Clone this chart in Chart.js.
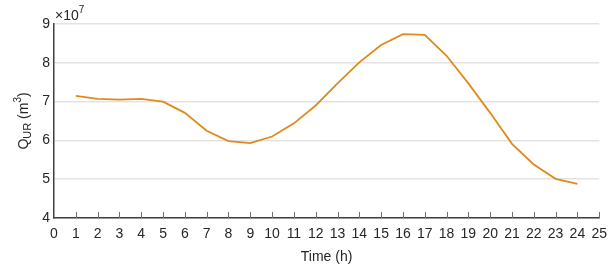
<!DOCTYPE html>
<html>
<head>
<meta charset="utf-8">
<script src="https://cdn.jsdelivr.net/npm/chart.js@4"></script>
<style>
  html, body { margin: 0; padding: 0; background: #fff; }
  #wrap { width: 615px; height: 270px; }
</style>
</head>
<body>
<div id="wrap"><canvas id="chart"></canvas></div>
<script>
// hours and Q_UR values (x10^7 m^3)
const hours = [1, 2, 3, 4, 5, 6, 7, 8, 9, 10, 11, 12, 13, 14, 15, 16, 17, 18, 19, 20, 21, 22, 23, 24];
const qur = [7.15, 7.07, 7.05, 7.07, 7.0, 6.71, 6.25, 5.98, 5.93, 6.1, 6.44, 6.9,
  7.47, 8.01, 8.46, 8.74, 8.72, 8.18, 7.47, 6.71, 5.91, 5.38, 5.01, 4.88];
const xTicks = [0, 1, 2, 3, 4, 5, 6, 7, 8, 9, 10, 11, 12, 13, 14, 15, 16, 17, 18, 19, 20, 21, 22, 23, 24, 25];
const yTicks = [4, 5, 6, 7, 8, 9];

const FONT = "'Liberation Sans Narrow', 'Liberation Sans', Arial, sans-serif";
const AXIS = '#404040';
const TXT = '#262626';

// inward tick marks on x axis + y title + exponent
const decor = {
  id: 'decor',
  afterDraw(chart) {
    const ctx = chart.ctx;
    const xs = chart.scales.x;
    const a = chart.chartArea;
    ctx.save();
    ctx.strokeStyle = '#707070';
    ctx.lineWidth = 1;
    xTicks.forEach(t => {
      if (t === 0) return;
      const px = Math.round(xs.getPixelForValue(t)) + 0.5;
      ctx.beginPath();
      ctx.moveTo(px, a.bottom);
      ctx.lineTo(px, a.bottom - 6);
      ctx.stroke();
    });
    // exponent
    ctx.fillStyle = TXT;
    ctx.textBaseline = 'alphabetic';
    ctx.textAlign = 'left';
    ctx.font = '14px ' + FONT;
    ctx.fillText('\u00d710', a.left + 1, a.top - 4);
    const w = ctx.measureText('\u00d710').width;
    ctx.font = '10px ' + FONT;
    ctx.fillText('7', a.left + 1 + w, a.top - 11);
    // y title: Q_UR (m^3)
    ctx.translate(19, (a.top + a.bottom) / 2);
    ctx.rotate(-Math.PI / 2);
    const parts = [
      { t: 'Q', f: 14, dy: 0 },
      { t: 'UR', f: 11, dy: 4 },
      { t: ' (m', f: 14, dy: 0 },
      { t: '3', f: 10, dy: -6 },
      { t: ')', f: 14, dy: 0 }
    ];
    let total = 0;
    parts.forEach(p => { ctx.font = p.f + 'px ' + FONT; p.w = ctx.measureText(p.t).width; total += p.w; });
    let x = -total / 2;
    ctx.textBaseline = 'middle';
    parts.forEach(p => {
      ctx.font = p.f + 'px ' + FONT;
      ctx.fillText(p.t, x, p.dy + 5);
      x += p.w;
    });
    ctx.restore();
  }
};

new Chart(document.getElementById('chart'), {
  type: 'line',
  data: {
    datasets: [{
      data: hours.map((h, i) => ({ x: h, y: qur[i] })),
      borderColor: '#E08A1C',
      borderWidth: 1.8,
      pointRadius: 0,
      tension: 0,
      fill: false
    }]
  },
  options: {
    responsive: true,
    maintainAspectRatio: false,
    animation: false,
    layout: { padding: { top: 24, right: 15, left: 0, bottom: 0 } },
    plugins: {
      legend: { display: false },
      tooltip: { enabled: false }
    },
    scales: {
      x: {
        type: 'linear',
        min: 0,
        max: 25,
        afterBuildTicks: s => { s.ticks = xTicks.map(v => ({ value: v })); },
        afterFit: s => { s.height = 52; },
        grid: { display: false, drawTicks: false },
        border: { display: true, color: AXIS, width: 1.5 },
        ticks: { color: TXT, font: { family: FONT, size: 14 }, padding: 8, maxRotation: 0, autoSkip: false },
        title: { display: true, text: 'Time (h)', color: TXT, font: { family: FONT, size: 14 }, padding: { top: 2 } }
      },
      y: {
        min: 4,
        max: 9,
        afterBuildTicks: s => { s.ticks = yTicks.map(v => ({ value: v })); },
        afterFit: s => { s.width = 54; },
        grid: { color: '#e3e3e3', lineWidth: 1.5, drawTicks: false },
        border: { display: true, color: AXIS, width: 1.5 },
        ticks: { color: TXT, font: { family: FONT, size: 14 }, padding: 4 }
      }
    }
  },
  plugins: [decor]
});
</script>
</body>
</html>
